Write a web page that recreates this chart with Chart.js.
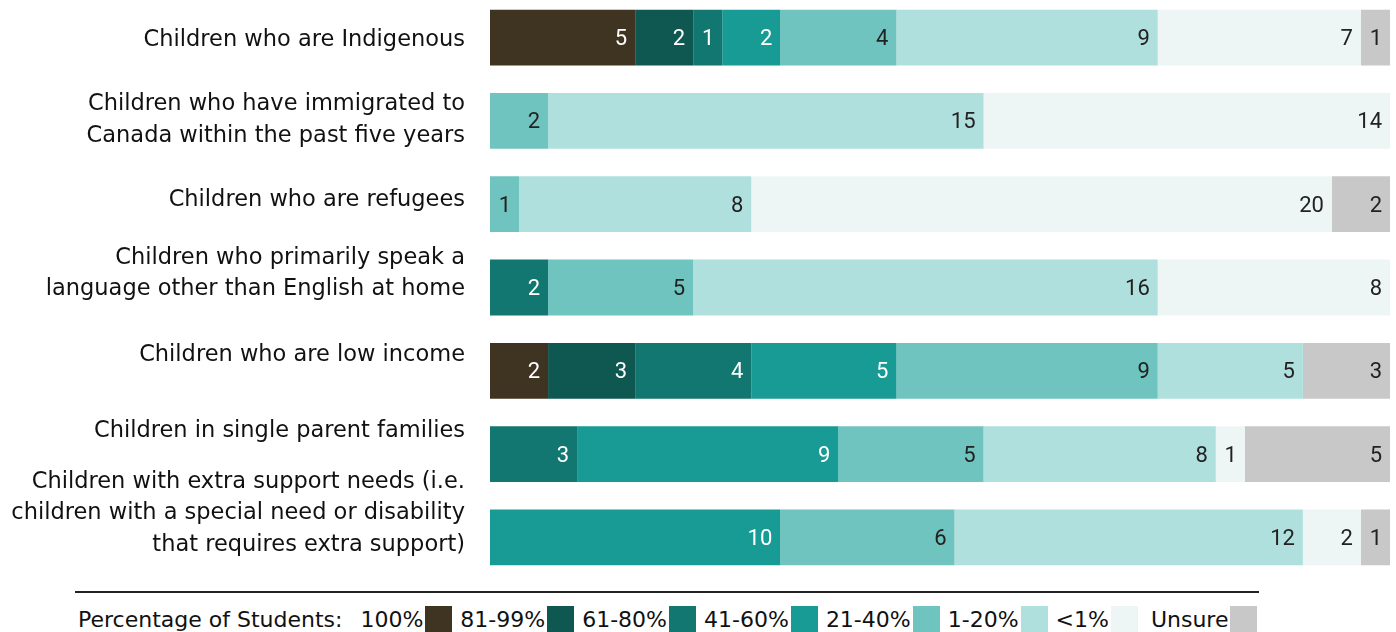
<!DOCTYPE html>
<html>
<head>
<meta charset="utf-8">
<script src="https://cdn.jsdelivr.net/npm/chart.js@4.4.0/dist/chart.umd.min.js"></script>
<style>
  html, body { margin: 0; padding: 0; background: #fff; }
  body { width: 1396px; height: 632px; position: relative; overflow: hidden; }
  #wrap { position: absolute; left: 0; top: -4px; width: 1396px; height: 583px; }
  #rule { position: absolute; left: 75px; top: 591px; width: 1184px; height: 2px; background: #222; }
  #legend { position: absolute; left: 78px; top: 606px; height: 26px; display: flex; align-items: center;
            font-family: "DejaVu Sans", Verdana, sans-serif; font-size: 22px; color: #111; }
  #legend .item { display: flex; align-items: center; margin-left: 8px; }
  #legend .box { width: 27px; height: 26px; margin-left: 2px; }
</style>
</head>
<body>
<div id="wrap"><canvas id="chart"></canvas></div>
<div id="rule"></div>
<div id="legend"></div>
<script>
// categorias (linhas do gráfico)
const categories = [
  ['Children who are Indigenous'],
  ['Children who have immigrated to', 'Canada within the past five years'],
  ['Children who are refugees'],
  ['Children who primarily speak a', 'language other than English at home'],
  ['Children who are low income'],
  ['Children in single parent families'],
  ['Children with extra support needs (i.e.', 'children with a special need or disability', 'that requires extra support)']
];

// séries (faixas de percentual)
const seriesNames = ['100%', '81-99%', '61-80%', '41-60%', '21-40%', '1-20%', '<1%', 'Unsure'];
const pct100   = [5, 0, 0, 0, 2, 0, 0];
const pct81_99 = [2, 0, 0, 0, 3, 0, 0];
const pct61_80 = [1, 0, 0, 2, 4, 3, 0];
const pct41_60 = [2, 0, 0, 0, 5, 9, 10];
const pct21_40 = [4, 2, 1, 5, 9, 5, 6];
const pct1_20  = [9, 15, 8, 16, 5, 8, 12];
const pctLess1 = [7, 14, 20, 8, 0, 1, 2];
const unsure   = [1, 0, 2, 0, 3, 5, 1];

const seriesValues = [pct100, pct81_99, pct61_80, pct41_60, pct21_40, pct1_20, pctLess1, unsure];
const colors = ['#3f3321', '#0f5751', '#117770', '#179b94', '#6fc4bf', '#b0e0dd', '#eef6f5', '#c8c8c8'];
const labelColors = ['#fff', '#fff', '#fff', '#fff', '#222', '#222', '#222', '#222'];

// deslocamento vertical dos rótulos da esquerda (px)
const labelShift = [3, -1, -4, -14, -16, -23, -24];

const ctx = document.getElementById('chart').getContext('2d');

// rótulos de valor dentro das barras
const valueLabels = {
  id: 'valueLabels',
  afterDatasetsDraw(chart) {
    const c = chart.ctx;
    c.save();
    c.font = '22px Roboto, sans-serif';
    c.textAlign = 'right';
    c.textBaseline = 'middle';
    chart.data.datasets.forEach((ds, i) => {
      const meta = chart.getDatasetMeta(i);
      meta.data.forEach((bar, j) => {
        const v = ds.data[j];
        if (!v) return;
        c.fillStyle = labelColors[i];
        c.fillText(String(v), bar.x - 8, bar.y + 2);
      });
    });
    c.restore();
  }
};

// rótulos das categorias à esquerda
const categoryLabels = {
  id: 'categoryLabels',
  afterDraw(chart) {
    const c = chart.ctx;
    const y = chart.scales.y;
    c.save();
    c.font = '22.5px "DejaVu Sans", Verdana, sans-serif';
    c.fillStyle = '#111';
    c.textAlign = 'right';
    c.textBaseline = 'middle';
    const lh = 31.5;
    categories.forEach((lines, j) => {
      const cy = y.getPixelForValue(j) + labelShift[j];
      const start = cy - (lines.length - 1) * lh / 2;
      lines.forEach((t, k) => c.fillText(t, 465, start + k * lh));
    });
    c.restore();
  }
};

const chart = new Chart(ctx, {
  type: 'bar',
  data: {
    labels: categories,
    datasets: seriesNames.map((name, i) => ({
      label: name,
      data: seriesValues[i],
      backgroundColor: colors[i],
      borderWidth: 0,
      barPercentage: 0.67,
      categoryPercentage: 1.0
    }))
  },
  options: {
    indexAxis: 'y',
    responsive: true,
    maintainAspectRatio: false,
    animation: false,
    layout: { padding: { left: 490, right: 6, top: 0, bottom: 0 } },
    scales: {
      x: { stacked: true, min: 0, max: 31, display: false },
      y: { stacked: true, display: false }
    },
    plugins: {
      legend: { display: false },
      tooltip: { enabled: false }
    }
  },
  plugins: [valueLabels, categoryLabels]
});

// legenda em HTML
const legend = document.getElementById('legend');
const title = document.createElement('span');
title.textContent = 'Percentage of Students:';
title.style.marginRight = '10px';
legend.appendChild(title);
seriesNames.forEach((name, i) => {
  const item = document.createElement('span');
  item.className = 'item';
  const t = document.createElement('span');
  t.textContent = name;
  const b = document.createElement('span');
  b.className = 'box';
  b.style.background = colors[i];
  if (name === 'Unsure') item.style.marginLeft = '13px';
  item.appendChild(t);
  item.appendChild(b);
  legend.appendChild(item);
});
</script>
</body>
</html>
